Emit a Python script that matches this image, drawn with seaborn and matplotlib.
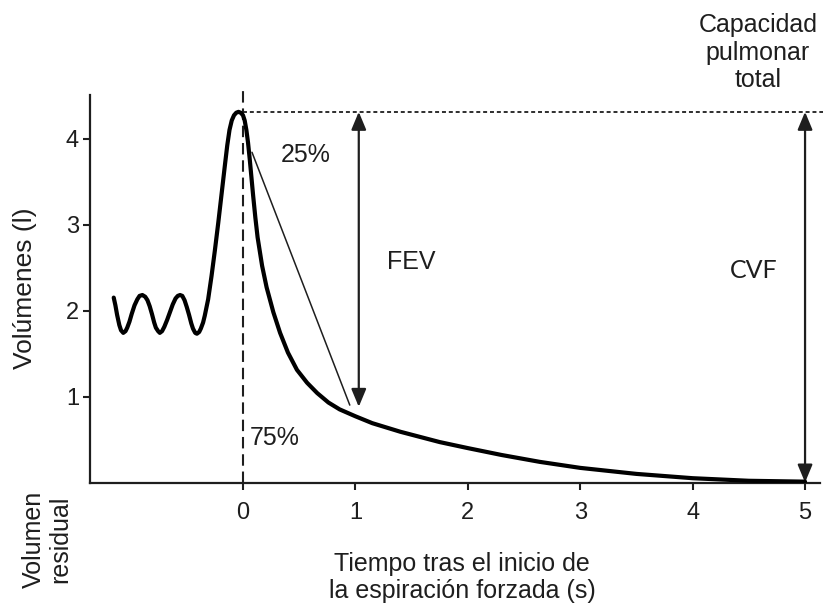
import matplotlib
matplotlib.use("Agg")
import matplotlib.pyplot as plt
import seaborn as sns
import pandas as pd

# Spirogram: tidal breathing, then a maximal inspiration followed by forced expiration
tiempo = [-1.15, -1.135, -1.12, -1.10, -1.085, -1.065, -1.045, -1.03, -1.01, -0.99,
          -0.965, -0.94, -0.92, -0.895, -0.87, -0.85, -0.83, -0.81, -0.79, -0.775,
          -0.755, -0.74, -0.72, -0.70, -0.675, -0.65, -0.625, -0.60, -0.58, -0.56,
          -0.54, -0.52, -0.50, -0.48, -0.46, -0.445, -0.425, -0.41, -0.39, -0.375,
          -0.355, -0.34, -0.31, -0.28, -0.25, -0.22, -0.19, -0.16, -0.14, -0.12,
          -0.10, -0.08, -0.06, -0.04, -0.02, 0.0, 0.015, 0.03, 0.045, 0.06, 0.075,
          0.09, 0.11, 0.13, 0.17, 0.21, 0.27, 0.33, 0.40, 0.48, 0.57, 0.66, 0.76,
          0.86, 1.0, 1.15, 1.4, 1.75, 2.0, 2.3, 2.64, 3.0, 3.5, 4.0, 4.5, 5.0]
volumen = [2.15, 2.06, 1.95, 1.83, 1.77, 1.74, 1.76, 1.80, 1.87, 1.96,
           2.06, 2.13, 2.17, 2.18, 2.16, 2.12, 2.05, 1.96, 1.86, 1.80,
           1.76, 1.74, 1.76, 1.81, 1.89, 1.98, 2.07, 2.14, 2.17, 2.18,
           2.17, 2.12, 2.04, 1.95, 1.85, 1.79, 1.74, 1.73, 1.75, 1.79,
           1.86, 1.94, 2.13, 2.40, 2.70, 3.02, 3.36, 3.70, 3.92, 4.10,
           4.21, 4.27, 4.30, 4.31, 4.30, 4.27, 4.21, 4.10, 3.95, 3.76, 3.55,
           3.34, 3.08, 2.85, 2.52, 2.27, 1.98, 1.74, 1.51, 1.31, 1.16, 1.04, 0.93,
           0.85, 0.77, 0.69, 0.59, 0.47, 0.40, 0.32, 0.24, 0.17, 0.10, 0.05, 0.02, 0.01]

# Reference levels and annotations
capacidad_total = 4.31
tangente_t = [0.08, 0.95]
tangente_v = [3.84, 0.90]
fev_t = 1.03
fev_fin = 0.88
cvf_t = 5.0
xticks = [0, 1, 2, 3, 4, 5]
yticks = [1, 2, 3, 4]

sns.set_theme(style="ticks")
plt.rcParams["font.family"] = ["Liberation Sans", "DejaVu Sans"]
ink = "#1e1e1e"
plt.rcParams["text.color"] = ink
plt.rcParams["axes.labelcolor"] = ink
plt.rcParams["xtick.color"] = ink
plt.rcParams["ytick.color"] = ink

fig = plt.figure(figsize=(8.23, 6.08), dpi=100)
ax = fig.add_axes([90 / 823, 1 - 482.5 / 608, (820 - 90) / 823, (482.5 - 95) / 608])

df = pd.DataFrame({"t": tiempo, "v": volumen})
sns.lineplot(data=df, x="t", y="v", sort=False, estimator=None, color="black",
             linewidth=3.0, ax=ax, zorder=5)

ax.set_xlim(-1.361, 5.133)
ax.set_ylim(0, 4.506)

# Vertical dashed line at the start of forced expiration
ax.plot([0, 0], [0, 4.55], color=ink, lw=1.5, dashes=(5.5, 2.8), clip_on=False, zorder=3)
# Dotted line at total lung capacity
ax.plot([0, 5.16], [capacidad_total, capacidad_total], color=ink, lw=1.3,
        dashes=(2.2, 1.6), clip_on=False, zorder=3)
# Thin line joining 25 % and 75 % of the expiration
ax.plot(tangente_t, tangente_v, color=ink, lw=1.1, zorder=4)

arrow_kw = dict(arrowstyle="<|-|>,head_length=0.6,head_width=0.25", color=ink, lw=1.6,
                mutation_scale=18, shrinkA=0, shrinkB=0)
ax.annotate("", xy=(fev_t, fev_fin), xytext=(fev_t, capacidad_total), arrowprops=arrow_kw)
ax.annotate("", xy=(cvf_t, 0.0), xytext=(cvf_t, capacidad_total), arrowprops=arrow_kw,
            annotation_clip=False)

ax.text(0.56, 3.81, "25%", fontsize=18, ha="center", va="center")
ax.text(0.28, 0.52, "75%", fontsize=18, ha="center", va="center")
ax.text(1.50, 2.56, "FEV", fontsize=18, ha="center", va="center")
ax.text(4.54, 2.47, "CVF", fontsize=18, ha="center", va="center",
        family=["Lato", "DejaVu Sans"])
ax.text(4.58, 5.0, "Capacidad\npulmonar\ntotal", fontsize=18, ha="center", va="center",
        linespacing=1.2, clip_on=False)

fig.text(47 / 823, 1 - 539 / 608, "Volumen\nresidual", fontsize=18, rotation=90,
         ha="center", va="center", linespacing=1.1, multialignment="center")

ax.set_xticks(xticks)
ax.set_yticks(yticks)
ax.tick_params(axis="x", length=5, width=1.5, pad=9, labelsize=17)
ax.tick_params(axis="y", length=5, width=1.5, pad=3, labelsize=17)

ax.set_xlabel("Tiempo tras el inicio de\nla espiración forzada (s)", fontsize=18,
              linespacing=1.15)
ax.set_ylabel("Volúmenes (l)", fontsize=19)
ax.xaxis.set_label_coords((462 - 90) / 730, -(552 - 482.5) / 387.5)
ax.yaxis.set_label_coords(-(90 - 37) / 730, (482.5 - 288) / 387.5)

sns.despine(ax=ax)
for side in ("left", "bottom"):
    ax.spines[side].set_linewidth(1.6)
    ax.spines[side].set_color(ink)

fig.savefig("out.png", dpi=100, facecolor="white")
